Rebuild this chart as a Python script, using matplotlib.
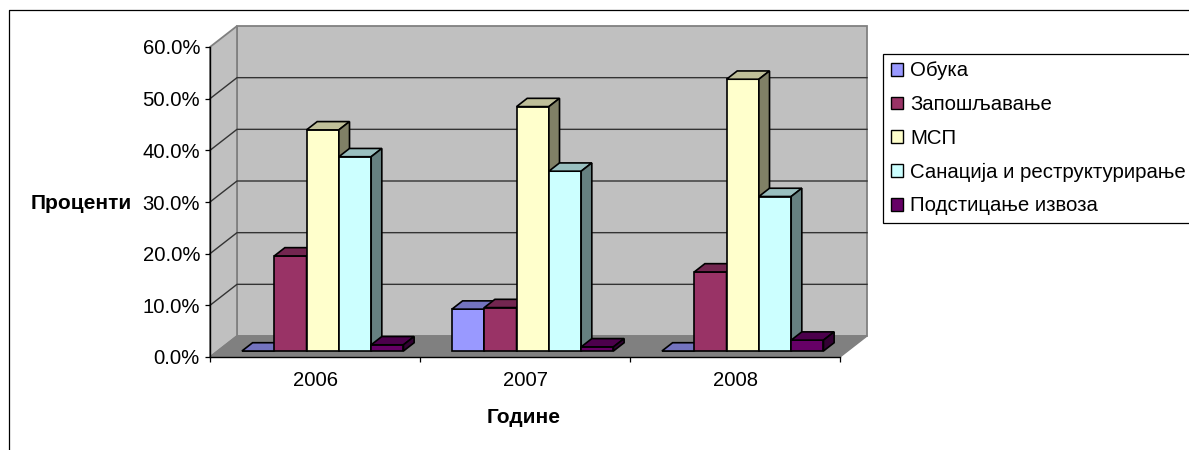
import matplotlib
matplotlib.use('Agg')
import matplotlib.pyplot as plt
from matplotlib.lines import Line2D
from matplotlib.patches import Patch, Polygon

plt.rcParams['font.family'] = ['Liberation Sans', 'DejaVu Sans']

years = ['2006', '2007', '2008']
series = ['Обука', 'Запошљавање', 'МСП', 'Санација и реструктурирање', 'Подстицање извоза']
obuka = [0.0, 8.1, 0.0]
zaposljavanje = [18.4, 8.4, 15.3]
msp = [42.8, 47.3, 52.6]
sanacija = [37.6, 34.8, 29.9]
izvoz = [1.2, 0.8, 2.1]
values = [obuka, zaposljavanje, msp, sanacija, izvoz]

front = ['#9999FF', '#993366', '#FFFFCC', '#CCFFFF', '#660066']
top = ['#7373BF', '#732650', '#BFBF99', '#99BFBF', '#4C004C']
side = ['#4D4D80', '#4D1A33', '#808066', '#668080', '#330033']

W, H = 1189, 450
fig = plt.figure(figsize=(W / 100, H / 100), dpi=100)
ax = fig.add_axes([210 / W, (H - 357) / H, 630 / W, 310 / H])
ax.set_xlim(0, 3)
ax.set_ylim(0, 60)
ax.patch.set_visible(False)

# oblique depth of the box, in data units
dx = 27 / 210
dy = 21 * 60 / 310
bar_w = 1 / 6.5
d0, d1 = 0.286, 0.68


def proj(x, y, d):
    return (x + d * dx, y + d * dy)


def face(pts, color, edge='black', lw=1.2, z=1.0):
    ax.add_patch(Polygon(pts, closed=True, facecolor=color, edgecolor=edge,
                         linewidth=lw, joinstyle='miter', clip_on=False, zorder=z))


# walls and floor
face([proj(0, 0, 1), proj(3, 0, 1), proj(3, 60, 1), proj(0, 60, 1)], '#C0C0C0', '#808080', 1.3, 0.2)
face([proj(0, 0, 0), proj(0, 0, 1), proj(0, 60, 1), proj(0, 60, 0)], '#C0C0C0', '#808080', 1.3, 0.2)
face([proj(0, 0, 0), proj(3, 0, 0), proj(3, 0, 1), proj(0, 0, 1)], '#808080', '#808080', 1.0, 0.3)

yticks = [0, 10, 20, 30, 40, 50, 60]
for v in yticks[1:-1]:
    a, b, c = proj(0, v, 0), proj(0, v, 1), proj(3, v, 1)
    ax.plot([a[0], b[0], c[0]], [a[1], b[1], c[1]], color='#333333', lw=1.0,
            clip_on=False, zorder=0.5)

# bars, left to right so the later ones cover the earlier sides
for c in range(len(years)):
    for s in range(len(series)):
        v = values[s][c]
        x0 = c + 0.5 - 2.5 * bar_w + s * bar_w
        x1 = x0 + bar_w
        face([proj(x0, 0, d0), proj(x1, 0, d0), proj(x1, v, d0), proj(x0, v, d0)], front[s])
        face([proj(x0, v, d0), proj(x1, v, d0), proj(x1, v, d1), proj(x0, v, d1)], top[s])
        if v > 0:
            face([proj(x1, 0, d0), proj(x1, 0, d1), proj(x1, v, d1), proj(x1, v, d0)], side[s])

for name in ['top', 'right']:
    ax.spines[name].set_visible(False)
ax.spines['left'].set_linewidth(1.0)
ax.spines['bottom'].set_linewidth(1.0)

ax.set_yticks(yticks)
ax.set_yticklabels([f'{v:.1f}%' for v in yticks])
ax.set_xticks(range(len(years) + 1))
ax.set_xticklabels([])
ax.set_xticks([i + 0.5 for i in range(len(years))], labels=years, minor=True)
ax.tick_params(axis='y', length=3.6, width=0.9, pad=3.6, labelsize=14.6)
ax.tick_params(axis='x', which='major', length=3.6, width=0.9)
ax.tick_params(axis='x', which='minor', length=0, pad=10.2, labelsize=14.6)

ax.set_ylabel('Проценти', rotation=0, ha='right', va='center', fontweight='bold', fontsize=15)
ax.yaxis.set_label_coords((132 - 210) / 630, (357 - 203.5) / 310)
ax.set_xlabel('Године', va='center', fontweight='bold', fontsize=15)
ax.xaxis.set_label_coords((524 - 210) / 630, (357 - 417.5) / 310)

handles = [Patch(facecolor=front[i], edgecolor='black', linewidth=1.0, label=series[i])
           for i in range(len(series))]
leg = fig.legend(handles=handles, loc='upper left', bbox_to_anchor=(883 / W, (H - 53.5) / H),
                 fontsize=14.7, frameon=True, fancybox=False, edgecolor='black', framealpha=1,
                 handlelength=0.59, handleheight=0.59, handletextpad=0.35, labelspacing=0.72,
                 borderaxespad=0, borderpad=0.39)
leg.get_frame().set_linewidth(0.9)

# outer chart border, cut off by the picture on the right and at the bottom
fig.add_artist(Line2D([9.0 / W, 9.0 / W, 1], [0, (H - 10.0) / H, (H - 10.0) / H],
                      color='black', lw=0.9))

fig.savefig('out.png', dpi=100)
